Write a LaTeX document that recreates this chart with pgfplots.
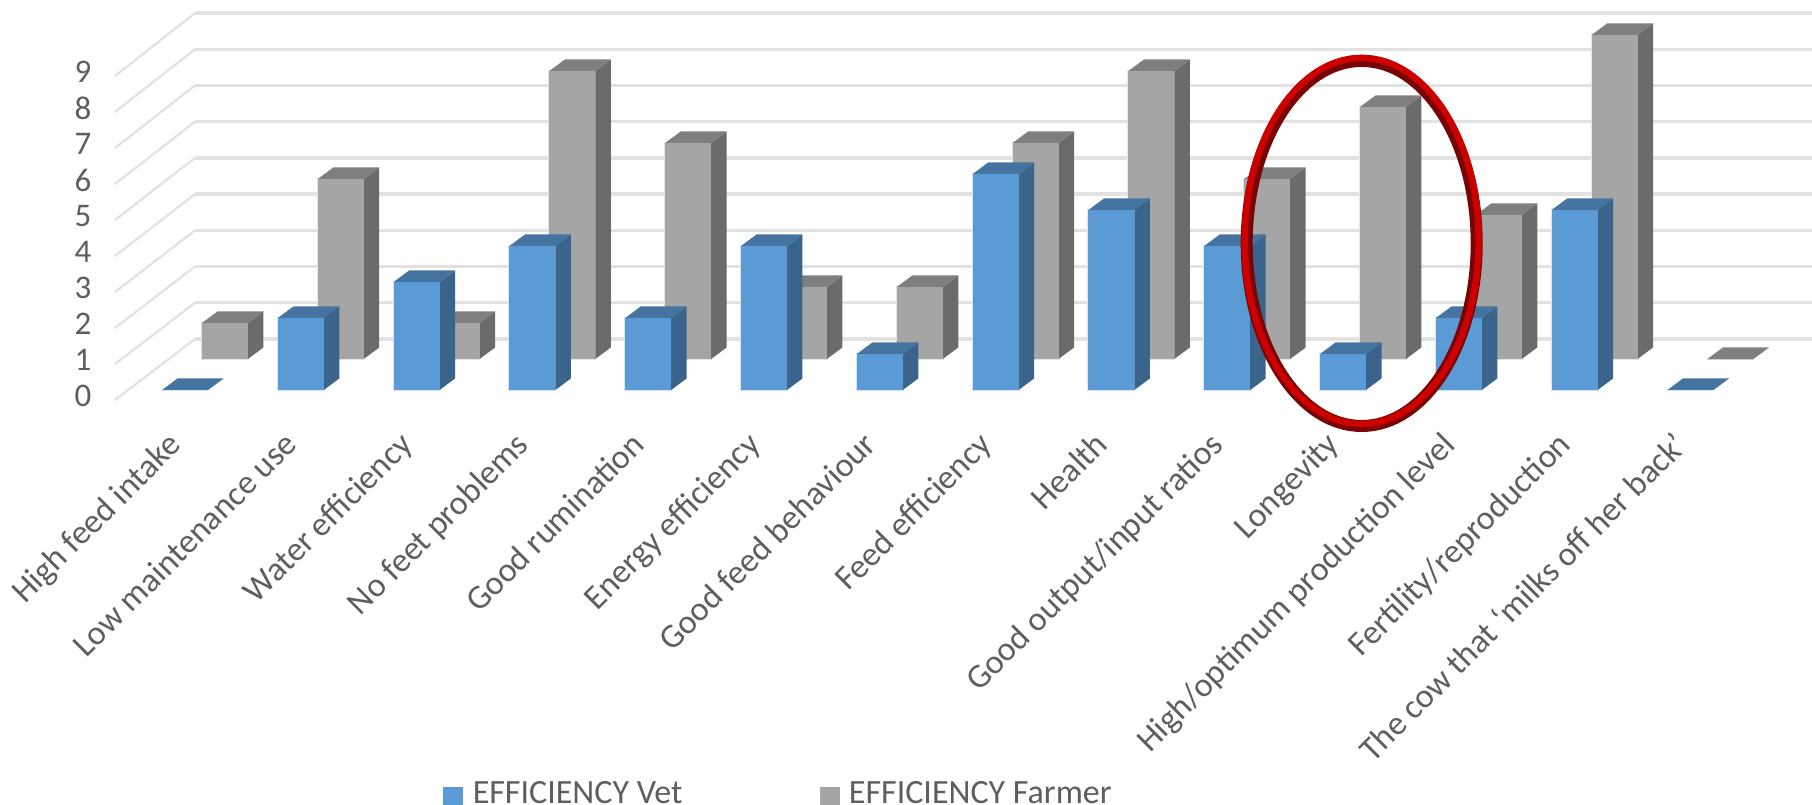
\documentclass[border=0pt]{standalone}
\usepackage{fontspec}
\setmainfont{Carlito}
\usepackage{pgfplots}
\pgfplotsset{compat=1.18}

\definecolor{gridc}{HTML}{E2E2E2}
\definecolor{labelc}{HTML}{5E5E5E}
\definecolor{vetfront}{HTML}{5B9BD5}
\definecolor{vetside}{HTML}{3A648C}
\definecolor{vettop}{HTML}{44749F}
\definecolor{vethalo}{HTML}{D5E5F5}
\definecolor{farmfront}{HTML}{A5A5A5}
\definecolor{farmside}{HTML}{6B6B6B}
\definecolor{farmtop}{HTML}{7F7F7F}
\definecolor{farmhalo}{HTML}{E4E4E4}

% One 3D column: #1 category, #2 value, #3 colour prefix, #4 column shift in x, #5 floor height
\newcommand{\column}[5]{%
  \pgfmathsetmacro{\xa}{#1+#4}%
  \pgfmathsetmacro{\xb}{\xa+0.397}%
  \pgfmathsetmacro{\xc}{\xb+0.134}%
  \pgfmathsetmacro{\xd}{\xa+0.134}%
  \pgfmathsetmacro{\ya}{#5}%
  \pgfmathsetmacro{\yb}{#5+#2}%
  \pgfmathsetmacro{\yc}{\yb+0.32}%
  \pgfmathsetmacro{\yd}{\ya+0.32}%
  \addplot[forget plot,draw=#3halo,line width=2pt,fill=#3front] coordinates {(\xa,\ya)(\xb,\ya)(\xb,\yb)(\xa,\yb)} --cycle;
  \addplot[forget plot,draw=none,fill=#3side] coordinates {(\xb,\ya)(\xc,\yd)(\xc,\yc)(\xb,\yb)} --cycle;
  \addplot[forget plot,draw=none,fill=#3top] coordinates {(\xa,\yb)(\xb,\yb)(\xc,\yc)(\xd,\yc)} --cycle;
  \addplot[forget plot,draw=none,fill=#3front] coordinates {(\xa,\ya)(\xb,\ya)(\xb,\yb)(\xa,\yb)} --cycle;
}
\newcommand{\farmer}[2]{\column{#1}{#2}{farm}{0.345}{0.861}}
\newcommand{\vet}[2]{\column{#1}{#2}{vet}{0}{0}}

\begin{document}
\begin{tikzpicture}[x=1pt,y=1pt]
\path[use as bounding box] (0,0) rectangle (1812,805);
\begin{axis}[
  at={(162pt,415pt)}, anchor=origin,
  x=115.8pt, y=36pt,
  xmin=-0.406, xmax=14.25, ymin=-0.278, ymax=10.47,
  clip=false,
  axis line style={draw=none},
  major tick length=0pt,
  ytick={0,...,9},
  xtick={0,...,13},
  xticklabels={{High feed intake},{Low maintenance use},{Water efficiency},{No feet problems},{Good rumination},{Energy efficiency},{Good feed behaviour},{Feed efficiency},{Health},{Good output/input ratios},{Longevity},{High/optimum production level},{Fertility/reproduction},{The cow that `milks off her back'}},
  /pgf/number format/assume math mode=true,
  yticklabel style={font=\fontsize{33}{38}\selectfont,text=labelc,xshift=-20pt,yshift=-6pt},
  xticklabel style={font=\fontsize{34}{38}\selectfont,text=labelc,rotate=45,anchor=north east,inner sep=0pt,xshift=-18pt,yshift=-24pt},
  legend style={draw=none,fill=none,at={(axis cs:2.43,-11.2)},anchor=west,legend columns=2,
    font=\fontsize{34}{38}\selectfont,text=labelc,inner sep=0pt,outer sep=0pt,
    /tikz/every even column/.style={column sep=135pt},
    /tikz/every odd column/.style={column sep=8pt}},
  legend image code/.code={\fill[#1] (0pt,-13pt) rectangle (19pt,6pt);},
]
% wall and side gridlines
\pgfplotsinvokeforeach{0,...,9}{
  \draw[gridc,line width=2.2pt] (axis cs:-0.406,{#1-0.278}) -- (axis cs:0.285,{#1*1.006+1.417});
  \draw[gridc,line width=3.4pt] (axis cs:0.285,{#1*1.006+1.417}) -- (axis cs:14.25,{#1*1.006+1.417});
}
% back row
\farmer{0}{1}\farmer{1}{5}\farmer{2}{1}\farmer{3}{8}\farmer{4}{6}\farmer{5}{2}\farmer{6}{2}
\farmer{7}{6}\farmer{8}{8}\farmer{9}{5}\farmer{10}{7}\farmer{11}{4}\farmer{12}{9}\farmer{13}{0}
% front row
\vet{0}{0}\vet{1}{2}\vet{2}{3}\vet{3}{4}\vet{4}{2}\vet{5}{4}\vet{6}{1}
\vet{7}{6}\vet{8}{5}\vet{9}{4}\vet{10}{1}\vet{11}{2}\vet{12}{5}\vet{13}{0}
% ring around the Longevity columns
\draw[draw={rgb,255:red,120;green,5;blue,5},line width=12pt] (axis cs:10.36,4.07) ellipse [x radius=115pt,y radius=182.5pt];
\draw[draw={rgb,255:red,205;green,0;blue,0},line width=6.5pt] (axis cs:10.36,4.14) ellipse [x radius=117pt,y radius=183pt];
\addlegendimage{vetfront}
\addlegendentry{EFFICIENCY Vet}
\addlegendimage{farmfront}
\addlegendentry{EFFICIENCY Farmer}
\end{axis}
\end{tikzpicture}
\end{document}
